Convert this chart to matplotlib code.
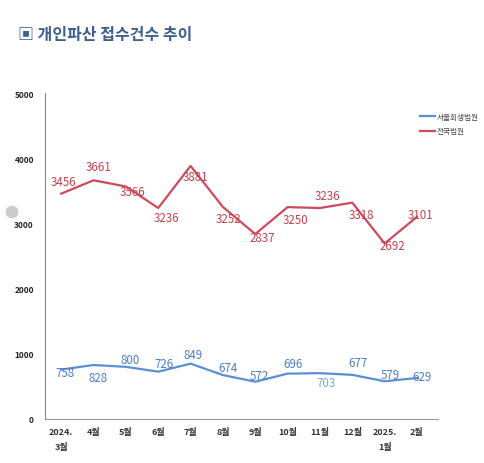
import matplotlib
matplotlib.use("Agg")
import matplotlib.pyplot as plt
from matplotlib.patches import Circle

plt.rcParams['font.family'] = ['Noto Sans CJK KR', 'DejaVu Sans']

months = ["2024.\n3월", "4월", "5월", "6월", "7월", "8월", "9월", "10월", "11월", "12월", "2025.\n1월", "2월"]
seoul = [758, 828, 800, 726, 849, 674, 572, 696, 703, 677, 579, 629]
nation = [3456, 3661, 3566, 3236, 3881, 3252, 2837, 3250, 3236, 3318, 2692, 3101]

# label offsets in pixels (dx, dy) relative to each point
nation_off = [(2, 12), (5, 14), (7, -5), (8, -9), (5, -11), (6, -12),
			  (7, -3), (8, -12), (8, 13), (9, -12), (8, -2), (4, 2)]
seoul_off = [(4, -3), (5, -12), (4, 7), (6, 8), (3, 9), (5, 8),
			 (4, 6), (5, 10), (6, -9), (6, 12), (6, 7), (5, 1)]

blue = "#5b8fd3"
red = "#cc4a5c"

fig = plt.figure(figsize=(4.85, 4.64), dpi=100)
ax = fig.add_axes([45/485, 1 - 420/464, (438-45)/485, (420-94)/464])

x = list(range(len(months)))
ax.plot(x, seoul, color=blue, lw=1.6, label="서울회생법원")
ax.plot(x, nation, color=red, lw=1.6, label="전국법원")

for i, v in enumerate(nation):
	ax.annotate(str(v), (i, v), xytext=nation_off[i], textcoords="offset pixels",
				ha="center", va="center", fontsize=8.3, color="#c8404f")
for i, v in enumerate(seoul):
	light = (i == 8)
	ax.annotate(str(v), (i, v), xytext=seoul_off[i], textcoords="offset pixels",
				ha="center", va="center", fontsize=8.3,
				color="#7ea6dc" if light else "#4a7fc8")

ax.set_xlim(-0.5, 11.65)
ax.set_ylim(0, 5000)
ax.set_yticks([0, 1000, 2000, 3000, 4000, 5000])
ax.set_yticklabels(["0", "1000", "2000", "3000", "4000", "5000"], fontsize=6, fontweight="bold", color="#222222")
ax.set_xticks(x)
ax.set_xticklabels(months, fontsize=6.5, fontweight="bold", color="#333333", linespacing=1.8, va="top")
ax.tick_params(axis="both", length=0)
ax.tick_params(axis="x", pad=6)
ax.tick_params(axis="y", pad=8)
for side in ["top", "right"]:
	ax.spines[side].set_visible(False)
ax.spines["left"].set_color("#888888")
ax.spines["bottom"].set_color("#999999")

leg = fig.legend(loc="upper right", bbox_to_anchor=(480/485, 1 - 112/464), frameon=False,
				 fontsize=5.5, handlelength=2.0, labelspacing=0.9, handletextpad=0.2,
				 borderpad=0.2, borderaxespad=0)
for t in leg.get_texts():
	t.set_color("#444444")

fig.text(18/485, 1 - 35/464, "▣ 개인파산 접수건수 추이", fontsize=11.5, fontweight="bold",
		 color="#3d5f8e", va="center", ha="left")

fig.patches.append(Circle((12/485, 1 - 213/464), 0.012, transform=fig.transFigure,
						  color="#c8cccc", zorder=0))

fig.savefig("out.png", dpi=100)
